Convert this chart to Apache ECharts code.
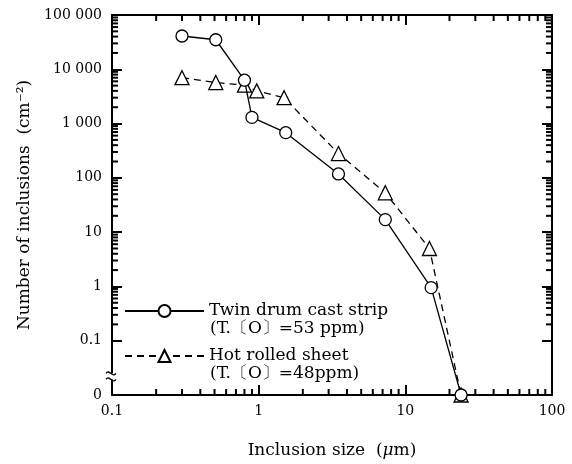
<!DOCTYPE html>
<html>
<head>
<meta charset="utf-8">
<script src="https://cdn.jsdelivr.net/npm/echarts@6/dist/echarts.min.js"></script>
<style>html,body{margin:0;padding:0;background:#fff;}#c{width:572px;height:464px;}</style>
</head>
<body>
<div id="c"></div>
<script>
// ---- data ----
const seriesNames = ['Twin drum cast strip', 'Hot rolled sheet'];
const seriesNotes = ['(T.\u3014O\u3015=53 ppm)', '(T.\u3014O\u3015=48ppm)'];
const twinX = [0.30, 0.51, 0.80, 0.90, 1.53, 3.5, 7.3, 15, 24];
const twinY = [41000, 35000, 6300, 1300, 680, 118, 17, 0.95, 0];
const hotX = [0.30, 0.51, 0.80, 0.97, 1.49, 3.5, 7.3, 14.6, 24];
const hotY = [7000, 5700, 5100, 4000, 3000, 280, 53, 5, 0];
const xTickLabels = ['0.1', '1', '10', '100'];
const yTickLabels = ['0', '0.1', '1', '10', '100', '1 000', '10 000', '100 000'];
const X_MIN = 0.1, X_MAX = 100;
const Y_ZERO = 0.01, Y_MAX = 100000; // axis floor that is labelled "0"
const xMinorTicks = [0.2,0.3,0.4,0.5,0.6,0.7,0.8,0.9,2,3,4,5,6,7,8,9,20,30,40,50,60,70,80,90];
const yMinorTicks = [0.2,0.3,0.4,0.5,0.6,0.7,0.8,0.9,2,3,4,5,6,7,8,9,20,30,40,50,60,70,80,90,
  200,300,400,500,600,700,800,900,2000,3000,4000,5000,6000,7000,8000,9000,
  20000,30000,40000,50000,60000,70000,80000,90000];
const breakAt = 0.022;

const FONT = '"DejaVu Serif", "Liberation Serif", serif';
const toPts = (xs, ys) => xs.map((x, i) => [x, ys[i] === 0 ? Y_ZERO : ys[i]]);

const chart = echarts.init(document.getElementById('c'));
const axisLine = { show: true, lineStyle: { color: '#000', width: 2 } };
const majorTick = { show: true, inside: true, length: 10, lineStyle: { color: '#000', width: 2 } };
const xLab = v => xTickLabels[Math.round(Math.log10(v)) + 1];
const yLab = v => yTickLabels[Math.round(Math.log10(v)) + 2];
const tickStyle = () => ({ stroke: '#000', lineWidth: 2 });
const TL = 6;

chart.setOption({
  animation: false,
  backgroundColor: '#fff',
  grid: { left: 112, right: 20, top: 15, bottom: 68 },
  xAxis: [
    { type: 'log', min: X_MIN, max: X_MAX, position: 'bottom', axisLine, axisTick: majorTick,
      splitLine: { show: false },
      axisLabel: { formatter: xLab, color: '#000', fontFamily: FONT, fontSize: 14, margin: 9 },
      name: 'Inclusion size  ({i|\u03bc}m)', nameLocation: 'middle', nameGap: 47,
      nameTextStyle: { color: '#000', fontFamily: FONT, fontSize: 17,
        rich: { i: { fontFamily: FONT, fontStyle: 'italic', fontSize: 17, color: '#000' } } } },
    { type: 'log', min: X_MIN, max: X_MAX, position: 'top', axisLine, axisTick: majorTick,
      splitLine: { show: false }, axisLabel: { show: false } }
  ],
  yAxis: [
    { type: 'log', min: Y_ZERO, max: Y_MAX, position: 'left', axisLine, axisTick: majorTick,
      splitLine: { show: false },
      axisLabel: { formatter: yLab, color: '#000', fontFamily: FONT, fontSize: 14, margin: 10 },
      name: 'Number of inclusions  (cm\u207b\u00b2)', nameLocation: 'middle', nameGap: 78,
      nameTextStyle: { color: '#000', fontFamily: FONT, fontSize: 17 } },
    { type: 'log', min: Y_ZERO, max: Y_MAX, position: 'right', axisLine, axisTick: majorTick,
      splitLine: { show: false }, axisLabel: { show: false } }
  ],
  legend: {
    data: seriesNames, orient: 'vertical', left: 124, top: 301,
    itemWidth: 79, itemHeight: 15, itemGap: 25, padding: 0,
    textStyle: { color: '#000', fontFamily: FONT, fontSize: 17, lineHeight: 20 }
  },
  graphic: [
    { type: 'text', left: 210, top: 320, style: { text: seriesNotes[0], font: '17px ' + FONT, fill: '#000' } },
    { type: 'text', left: 210, top: 365, style: { text: seriesNotes[1], font: '17px ' + FONT, fill: '#000' } }
  ],
  series: [
    { name: seriesNames[0], type: 'line', data: toPts(twinX, twinY), symbol: 'circle', symbolSize: 12,
      itemStyle: { color: '#fff', borderColor: '#000', borderWidth: 1.3 },
      lineStyle: { color: '#000', width: 1.3, type: 'solid' }, z: 4 },
    { name: seriesNames[1], type: 'line', data: toPts(hotX, hotY), symbol: 'triangle', symbolSize: 14,
      itemStyle: { color: '#fff', borderColor: '#000', borderWidth: 1.3 },
      lineStyle: { color: '#000', width: 1.3, type: [7, 5] }, z: 3 },
    { type: 'custom', clip: false, z: 5,
      data: xMinorTicks.map(v => [v, 1]),
      renderItem: (params, api) => {
        const v = api.value(0);
        const pb = api.coord([v, Y_ZERO]), pt = api.coord([v, Y_MAX]);
        return { type: 'group', children: [
          { type: 'line', shape: { x1: pb[0], y1: pb[1], x2: pb[0], y2: pb[1] - TL }, style: tickStyle() },
          { type: 'line', shape: { x1: pt[0], y1: pt[1], x2: pt[0], y2: pt[1] + TL }, style: tickStyle() }
        ]};
      } },
    { type: 'custom', clip: false, z: 5,
      data: yMinorTicks.map(v => [1, v]),
      renderItem: (params, api) => {
        const v = api.value(1);
        const pl = api.coord([X_MIN, v]), pr = api.coord([X_MAX, v]);
        return { type: 'group', children: [
          { type: 'line', shape: { x1: pl[0], y1: pl[1], x2: pl[0] + TL, y2: pl[1] }, style: tickStyle() },
          { type: 'line', shape: { x1: pr[0], y1: pr[1], x2: pr[0] - TL, y2: pr[1] }, style: tickStyle() }
        ]};
      } },
    { type: 'custom', clip: false, z: 5,
      data: [[X_MIN, breakAt]],
      renderItem: (params, api) => {
        const p = api.coord([api.value(0), api.value(1)]);
        const x = p[0], y = p[1];
        const st = { stroke: '#000', fill: null, lineWidth: 1.3 };
        return { type: 'group', children: [
          { type: 'rect', shape: { x: x - 2, y: y - 3, width: 4, height: 6 }, style: { fill: '#fff' } },
          { type: 'bezierCurve', shape: { x1: x - 6, y1: y - 3, x2: x + 4, y2: y - 3, cpx1: x - 3, cpy1: y - 8, cpx2: x + 1, cpy2: y + 2 }, style: st },
          { type: 'bezierCurve', shape: { x1: x - 6, y1: y + 3, x2: x + 4, y2: y + 3, cpx1: x - 3, cpy1: y - 2, cpx2: x + 1, cpy2: y + 8 }, style: st }
        ]};
      } }
  ]
});
</script>
</body>
</html>
